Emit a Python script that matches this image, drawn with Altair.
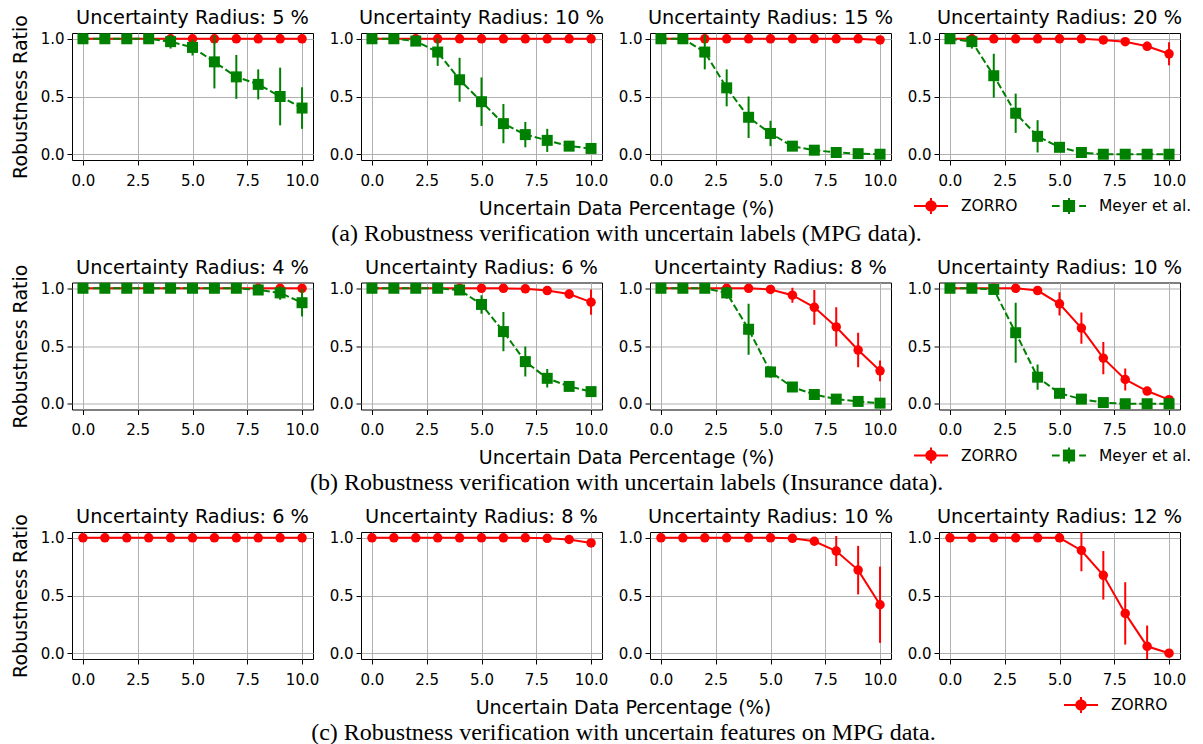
import altair as alt
import pandas as pd

# ---------------- data ----------------
pct = [0, 1, 2, 3, 4, 5, 6, 7, 8, 9, 10]
methods = ["ZORRO", "Meyer et al."]
method_colors = ["#ff0000", "#008000"]

x_title = "Uncertain Data Percentage (%)"
y_title = "Robustness Ratio"

# (a) uncertain labels, MPG data
radii_a = [5, 10, 15, 20]
caption_a = "(a) Robustness verification with uncertain labels (MPG data)."
zorro_mean_a = [
    [1, 1, 1, 1, 1, 1, 1, 1, 1, 1, 1],
    [1, 1, 1, 1, 1, 1, 1, 1, 1, 1, 1],
    [1, 1, 1, 1, 1, 1, 1, 1, 1, 1, 0.99],
    [1, 1, 1, 1, 1, 1, 1, 0.99, 0.975, 0.935, 0.87],
]
zorro_sd_a = [
    [0, 0, 0, 0, 0, 0, 0, 0, 0, 0, 0],
    [0, 0, 0, 0, 0, 0, 0, 0, 0, 0, 0],
    [0, 0, 0, 0, 0, 0, 0, 0, 0, 0, 0.02],
    [0, 0, 0, 0, 0, 0, 0, 0.01, 0.02, 0.04, 0.10],
]
meyer_mean_a = [
    [1, 1, 1, 1, 0.975, 0.925, 0.80, 0.67, 0.605, 0.50, 0.40],
    [1, 1, 0.98, 0.885, 0.645, 0.455, 0.265, 0.17, 0.12, 0.07, 0.05],
    [1, 1, 0.885, 0.575, 0.32, 0.18, 0.07, 0.035, 0.015, 0.005, 0.0],
    [1, 0.975, 0.68, 0.355, 0.155, 0.06, 0.015, 0.0, 0.0, 0.0, 0.0],
]
meyer_sd_a = [
    [0, 0, 0, 0, 0.06, 0.07, 0.23, 0.19, 0.13, 0.25, 0.18],
    [0, 0, 0.04, 0.12, 0.19, 0.21, 0.17, 0.11, 0.10, 0.02, 0.02],
    [0, 0, 0.15, 0.16, 0.18, 0.11, 0.02, 0.01, 0.01, 0, 0],
    [0, 0.06, 0.19, 0.17, 0.14, 0.03, 0.01, 0, 0, 0, 0],
]

# (b) uncertain labels, Insurance data
radii_b = [4, 6, 8, 10]
caption_b = "(b) Robustness verification with uncertain labels (Insurance data)."
zorro_mean_b = [
    [1, 1, 1, 1, 1, 1, 1, 1, 1, 1, 1],
    [1, 1, 1, 1, 1, 1, 1, 0.995, 0.98, 0.95, 0.88],
    [1, 1, 1, 1, 1, 0.99, 0.94, 0.835, 0.665, 0.465, 0.285],
    [1, 1, 1, 1, 0.98, 0.865, 0.655, 0.395, 0.21, 0.11, 0.035],
]
zorro_sd_b = [
    [0, 0, 0, 0, 0, 0, 0, 0, 0, 0, 0],
    [0, 0, 0, 0, 0, 0, 0, 0.01, 0.02, 0.04, 0.11],
    [0, 0, 0, 0, 0, 0.01, 0.065, 0.15, 0.17, 0.15, 0.09],
    [0, 0, 0, 0, 0.03, 0.10, 0.135, 0.14, 0.095, 0.02, 0.02],
]
meyer_mean_b = [
    [1, 1, 1, 1, 1, 1, 1, 1, 0.985, 0.96, 0.875],
    [1, 1, 1, 1, 0.985, 0.86, 0.625, 0.365, 0.22, 0.15, 0.105],
    [1, 1, 1, 0.96, 0.645, 0.275, 0.145, 0.08, 0.04, 0.02, 0.005],
    [1, 1, 0.99, 0.615, 0.23, 0.09, 0.04, 0.01, 0, 0, 0],
]
meyer_sd_b = [
    [0, 0, 0, 0, 0, 0, 0, 0, 0.02, 0.06, 0.12],
    [0, 0, 0, 0, 0.01, 0.08, 0.17, 0.13, 0.08, 0.02, 0.02],
    [0, 0, 0, 0.05, 0.22, 0.05, 0.02, 0.02, 0.01, 0.01, 0],
    [0, 0, 0.01, 0.26, 0.11, 0.02, 0.01, 0, 0, 0, 0],
]

# (c) uncertain features, MPG data (ZORRO only)
radii_c = [6, 8, 10, 12]
caption_c = "(c) Robustness verification with uncertain features on MPG data."
zorro_mean_c = [
    [1, 1, 1, 1, 1, 1, 1, 1, 1, 1, 1],
    [1, 1, 1, 1, 1, 1, 1, 1, 0.995, 0.985, 0.955],
    [1, 1, 1, 1, 1, 1, 0.995, 0.97, 0.885, 0.72, 0.42],
    [1, 1, 1, 1, 1, 1, 0.89, 0.675, 0.345, 0.06, 0.0],
]
zorro_sd_c = [
    [0, 0, 0, 0, 0, 0, 0, 0, 0, 0, 0],
    [0, 0, 0, 0, 0, 0, 0, 0, 0.01, 0.01, 0.03],
    [0, 0, 0, 0, 0, 0, 0.01, 0.02, 0.13, 0.21, 0.33],
    [0, 0, 0, 0, 0, 0, 0.18, 0.21, 0.27, 0.18, 0],
]

# ---------------- build a long table ----------------
records = []


def add(row, panel, method, means, sds):
    for xv, m, s in zip(pct, means, sds):
        records.append({"row": row, "panel": panel, "method": method,
                        "x": xv, "mean": m, "sd": s})


for i in range(4):
    add("a", i, "ZORRO", zorro_mean_a[i], zorro_sd_a[i])
    add("a", i, "Meyer et al.", meyer_mean_a[i], meyer_sd_a[i])
    add("b", i, "ZORRO", zorro_mean_b[i], zorro_sd_b[i])
    add("b", i, "Meyer et al.", meyer_mean_b[i], meyer_sd_b[i])
    add("c", i, "ZORRO", zorro_mean_c[i], zorro_sd_c[i])
df = pd.DataFrame(records)

# ---------------- styling ----------------
XS = alt.Scale(domain=[-0.5, 10.5], nice=False, zero=False)
YS = alt.Scale(domain=[-0.05, 1.05], nice=False, zero=False)
W, H = 241, 127

style = {
    "ZORRO": dict(color=method_colors[0], shape="circle", size=90, dash=None),
    "Meyer et al.": dict(color=method_colors[1], shape="square", size=121, dash=[7, 3]),
}
legend_paths = {
    "ZORRO": "M-1,0L1,0M0,-0.47L0,0.47M-0.28,0A0.28,0.28,0,1,0,0.28,0A0.28,0.28,0,1,0,-0.28,0Z",
    "Meyer et al.": "M-1,0L-0.55,0M0.6,0L1,0M0,-0.47L0,0.47M-0.3,-0.3L0.3,-0.3L0.3,0.3L-0.3,0.3Z",
}


def panel(row_key, idx, radius, row_methods, first, last, leg_x, leg_y):
    d = df[(df["row"] == row_key) & (df["panel"] == idx)]
    xaxis = alt.Axis(values=[0, 2.5, 5, 7.5, 10], format=".1f", title=None,
                     labelFlush=False)
    # every panel carries the same y title so that all cells have equal extents;
    # only the first one shows it
    yaxis = alt.Axis(values=[0, 0.5, 1.0], format=".1f", title=y_title,
                     titleColor="black" if first else "transparent")
    xs = alt.X("x:Q", scale=XS, axis=xaxis)
    layers = []
    for m in row_methods:
        st = style[m]
        b = alt.Chart(d).transform_filter(alt.datum.method == m)
        err = (b.transform_calculate(lo="datum.mean - datum.sd",
                                     hi="datum.mean + datum.sd")
               .mark_rule(color=st["color"], strokeWidth=2, clip=True)
               .encode(x=xs, y=alt.Y("lo:Q", scale=YS, axis=yaxis), y2="hi:Q"))
        line_kw = dict(color=st["color"], strokeWidth=2)
        if st["dash"]:
            line_kw["strokeDash"] = st["dash"]
        line = b.mark_line(**line_kw).encode(
            x=xs, y=alt.Y("mean:Q", scale=YS, axis=yaxis))
        pts = b.mark_point(filled=True, shape=st["shape"], size=st["size"],
                           color=st["color"], opacity=1).encode(
            x=xs, y=alt.Y("mean:Q", scale=YS, axis=yaxis))
        layers += [err, line, pts]
    if last:
        fld = "series_" + row_key
        cols = [style[m]["color"] for m in row_methods]
        paths = [legend_paths[m] for m in row_methods]
        leg = alt.Legend(title=None, orient="none", legendX=leg_x, legendY=leg_y,
                         direction="horizontal", columns=len(row_methods),
                         symbolSize=34 * 34, symbolStrokeWidth=2,
                         labelFont="DejaVu Sans", labelFontSize=15.5,
                         labelColor="black", labelOffset=12, columnPadding=30,
                         padding=0, symbolOpacity=1)
        lg = (alt.Chart(pd.DataFrame({fld: row_methods}))
              .transform_filter("false")
              .mark_point(filled=True, opacity=1, strokeWidth=2)
              .encode(
                  fill=alt.Fill(fld + ":N", scale=alt.Scale(domain=row_methods, range=cols), legend=leg),
                  stroke=alt.Stroke(fld + ":N", scale=alt.Scale(domain=row_methods, range=cols), legend=leg),
                  shape=alt.Shape(fld + ":N", scale=alt.Scale(domain=row_methods, range=paths), legend=leg),
              ))
        layers.append(lg)
    title = alt.TitleParams(text=f"Uncertainty Radius: {radius} %", font="DejaVu Sans",
                            fontSize=19.3, fontWeight="normal", color="black",
                            offset=-14, anchor="middle", frame="group")
    return alt.layer(*layers).properties(width=W, height=H, title=title)


def row(row_key, radii, row_methods, caption, leg_x, leg_y):
    panels = [panel(row_key, i, r, row_methods, i == 0, i == 3, leg_x, leg_y)
              for i, r in enumerate(radii)]
    t = alt.TitleParams(text=x_title, subtitle=caption, orient="bottom",
                        anchor="middle", frame="bounds", font="DejaVu Sans",
                        fontSize=19, fontWeight="normal", color="black",
                        subtitleFont="Liberation Serif", subtitleFontSize=24,
                        subtitleColor="black", subtitlePadding=3, offset=-19, dx=25)
    return (alt.hconcat(*panels, spacing=-21)
            .properties(title=t)
            .resolve_scale(fill="independent", stroke="independent", shape="independent")
            .resolve_legend(fill="independent", stroke="independent", shape="independent"))


chart = (alt.vconcat(
    row("a", radii_a, methods, caption_a, -26, 155),
    row("b", radii_b, methods, caption_b, -26, 155),
    row("c", radii_c, ["ZORRO"], caption_c, 124, 155),
    spacing=11.5)
    .resolve_scale(fill="independent", stroke="independent", shape="independent")
    .resolve_legend(fill="independent", stroke="independent", shape="independent")
    .properties(padding={"left": 2, "top": 0, "right": 0, "bottom": 0},
                background="white")
    .configure_view(stroke="black", strokeWidth=1)
    .configure_axis(labelFont="DejaVu Sans", labelFontSize=15, labelColor="black",
                    titleFont="DejaVu Sans", titleFontSize=19, titleFontWeight="normal",
                    gridColor="#b0b0b0", gridWidth=1,
                    domain=False, tickColor="black", tickSize=5, tickWidth=1)
    .configure_axisX(labelPadding=8)
    .configure_axisY(labelPadding=3, titlePadding=10)
)

chart.save("out.html", embed_options={"renderer": "svg", "actions": False})
